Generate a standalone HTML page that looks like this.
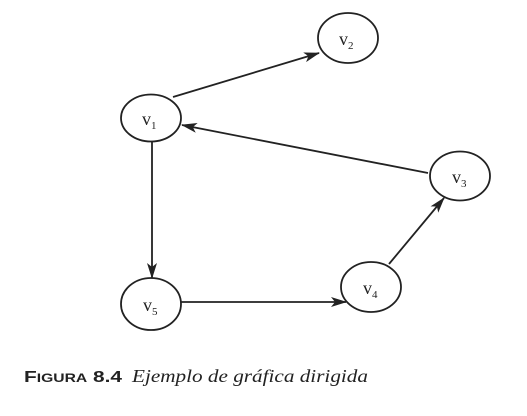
<!DOCTYPE html>
<html><head><style>
html,body{margin:0;padding:0;background:#fff;}
body{width:527px;height:411px;overflow:hidden;}
</style></head><body>
<svg width="527" height="411" viewBox="0 0 527 411" xmlns="http://www.w3.org/2000/svg">
<defs>
<marker id="a" markerWidth="16" markerHeight="10" refX="15" refY="5" orient="auto" markerUnits="userSpaceOnUse">
<path d="M0,0 L16,5 L0,10 L4,5 Z" fill="#222"/>
</marker>
</defs>
<g stroke="#222" stroke-width="1.8" fill="none">
<ellipse cx="348" cy="38" rx="30" ry="25"/>
<ellipse cx="151" cy="118" rx="30" ry="23.5"/>
<ellipse cx="460" cy="176" rx="30" ry="24.5"/>
<ellipse cx="371" cy="287" rx="30" ry="25"/>
<ellipse cx="151" cy="304" rx="30" ry="26"/>
<line x1="173" y1="97" x2="319" y2="53" marker-end="url(#a)"/>
<line x1="428" y1="173" x2="182" y2="125" marker-end="url(#a)"/>
<line x1="152" y1="142" x2="152" y2="278" marker-end="url(#a)"/>
<line x1="181" y1="302" x2="346" y2="302" marker-end="url(#a)"/>
<line x1="389" y1="264" x2="444" y2="198" marker-end="url(#a)"/>
</g>
<g font-family="Liberation Serif, serif" font-size="18" fill="#222">
<text x="339" y="45">v<tspan font-size="11" dy="4">2</tspan></text>
<text x="142" y="125">v<tspan font-size="11" dy="4">1</tspan></text>
<text x="452" y="183">v<tspan font-size="11" dy="4">3</tspan></text>
<text x="363" y="294">v<tspan font-size="11" dy="4">4</tspan></text>
<text x="143" y="311">v<tspan font-size="11" dy="4">5</tspan></text>
</g>
<text x="24" y="382" font-family="Liberation Sans, sans-serif" font-weight="bold" font-size="16" fill="#222" textLength="98" lengthAdjust="spacingAndGlyphs">F<tspan font-size="12">IGURA</tspan> 8.4</text>
<text x="132" y="382" font-family="Liberation Serif, serif" font-style="italic" font-size="18" fill="#222" textLength="236" lengthAdjust="spacingAndGlyphs">Ejemplo de gráfica dirigida</text>
</svg>
</body></html>
